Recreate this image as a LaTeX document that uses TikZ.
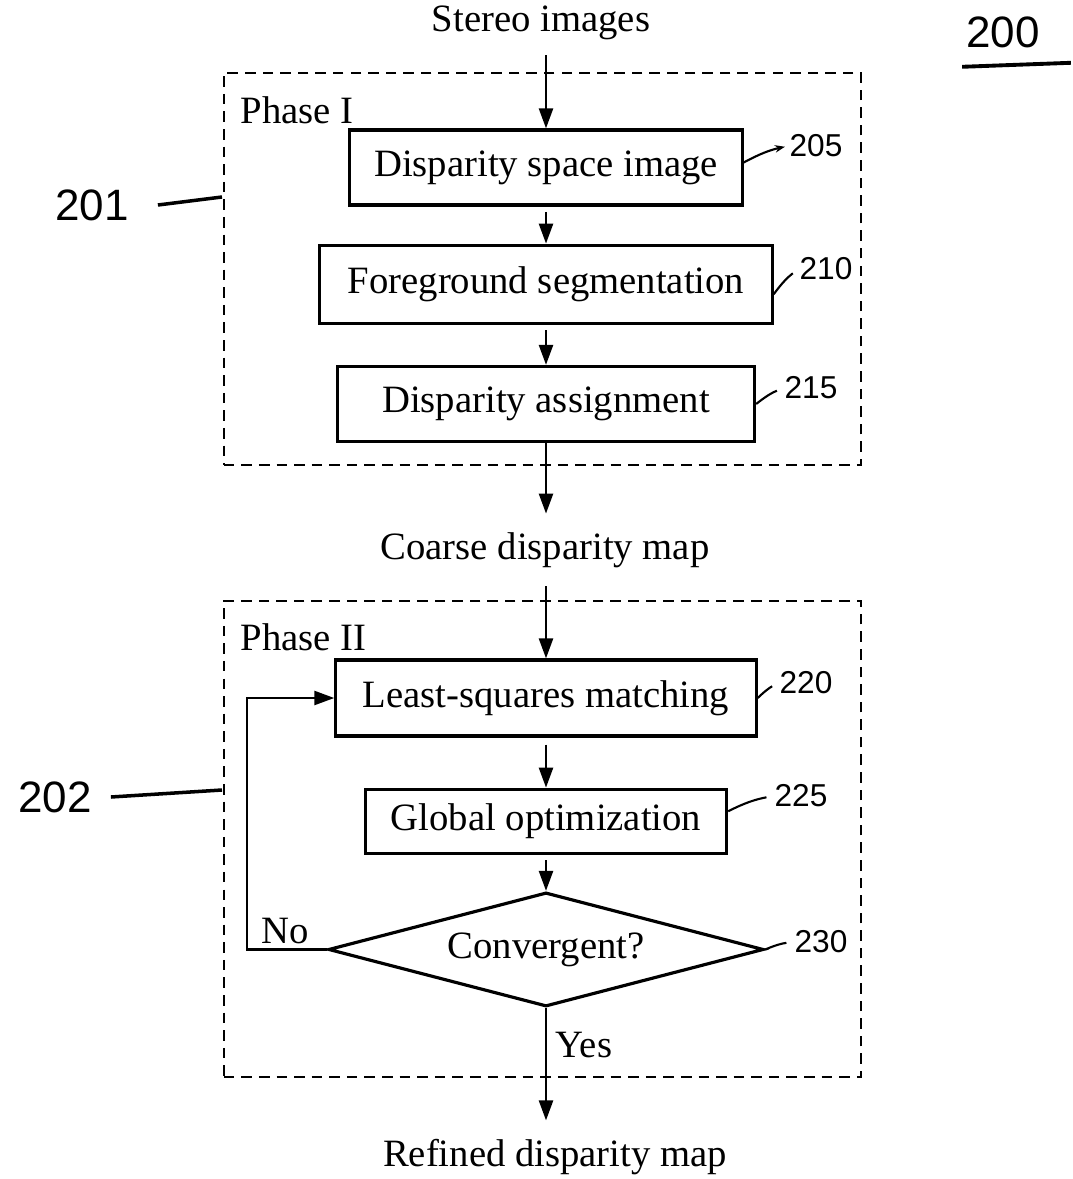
\documentclass[tikz,border=0pt]{standalone}
\usepackage{fontspec}
\setmainfont{Liberation Serif}
\newfontfamily\handfont{Liberation Sans}
\usetikzlibrary{arrows.meta, positioning, shapes.geometric}

\begin{document}
\begin{tikzpicture}[
    x=0.01cm, y=-0.01cm,
    box/.style={draw, line width=0.9pt, minimum height=0.75cm, inner sep=0pt,
                font=\fontsize{11}{13}\selectfont},
    phase/.style={draw, line width=0.7pt, dash pattern=on 3pt off 2pt, inner sep=0pt},
    txt/.style={font=\fontsize{11}{13}\selectfont, inner sep=1pt},
    refnum/.style={font=\handfont\fontsize{9}{10}\selectfont, inner sep=0pt},
    bignum/.style={font=\handfont\fontsize{12.5}{14}\selectfont, inner sep=0pt},
    leader/.style={line width=0.6pt},
    >={Triangle[length=2mm, width=1.4mm]}, line width=0.7pt
  ]
    \useasboundingbox (0,0) rectangle (1072,1179);

    % frames
    \node[phase, minimum width=6.37cm, minimum height=3.92cm] (phaseI) at (542.5,269) {};
    \node[phase, minimum width=6.37cm, minimum height=4.76cm] (phaseII) at (542.5,839) {};
    \node[txt, anchor=west] (lblI) at (236,110) {Phase I};
    \node[txt, anchor=west] (lblII) at (236,637) {Phase II};

    % phase I
    \node[txt] (stereo) at (541,23) {Stereo images};
    \node[box, minimum width=3.92cm] (dsi) at (546,167.5) {Disparity space image};
    \node[box, minimum width=4.52cm, minimum height=0.78cm, below=0.37cm of dsi] (fg)
      {Foreground segmentation};
    \node[box, minimum width=4.17cm, below=0.40cm of fg] (da) {Disparity assignment};
    \node[txt] (coarse) at (545,550) {Coarse disparity map};

    % phase II
    \node[box, minimum width=4.20cm, minimum height=0.76cm] (lsm) at (546,698)
      {Least-squares matching};
    \node[box, minimum width=3.61cm, minimum height=0.64cm, below=0.50cm of lsm] (go)
      {Global optimization};
    \node[box, diamond, aspect=3.8, minimum width=4.35cm, minimum height=1.14cm,
          below=0.36cm of go] (conv) {Convergent?};
    \node[txt] (refined) at (555,1157) {Refined disparity map};
    \node[txt] (no) at (285,931) {No};
    \node[txt] (yes) at (584,1045) {Yes};
    \coordinate (loop) at (247,950);

    \draw[->, shorten <=3pt] (stereo.south -| dsi.north) -- (dsi);
    \draw[->, shorten <=1.5pt] (dsi) -- (fg);
    \draw[->, shorten <=1.5pt] (fg) -- (da);
    \draw[->, shorten >=4pt] (da.south) -- (da.south |- coarse.north);
    \draw[->, shorten <=4pt] (coarse.south -| lsm.north) -- (lsm);
    \draw[->, shorten <=2pt] (lsm) -- (go);
    \draw[->, shorten <=1.5pt] (go) -- (conv);
    \draw[->] (conv.west) -- (conv.west -| loop) |- (lsm.west);
    \draw[->, shorten >=4pt] (conv.south) -- (conv.south |- refined.north);

    % reference numerals
    \node[bignum] (n200) at (1003,32) {200};
    \draw[line width=1.1pt] ([xshift=-0.03cm, yshift=-0.18cm]n200.south west)
      -- ([xshift=0.3cm, yshift=-0.14cm]n200.south east);
    \node[bignum] (n201) at (92,205) {201};
    \coordinate (t201) at (222,197);
    \draw[leader, line width=1pt] ([xshift=0.28cm]n201.east) -- (t201);
    \node[bignum] (n202) at (55,797) {202};
    \coordinate (t202) at (222,790);
    \draw[leader, line width=1pt] ([xshift=0.18cm]n202.east) -- (t202);

    \node[refnum] (n205) at (816,146) {205};
    \node[refnum] (n210) at (826,269) {210};
    \node[refnum] (n215) at (811,388) {215};
    \node[refnum] (n220) at (806,683) {220};
    \node[refnum] (n225) at (801,796) {225};
    \node[refnum] (n230) at (821,942) {230};
    \draw[leader, -{Stealth[length=1mm]}, shorten >=1pt] ([yshift=0.05cm]dsi.east) to[bend left=8] (n205.west);
    \draw[leader, shorten >=2pt] ([yshift=-0.1cm]fg.east) to[bend left=8] (n210.west);
    \draw[leader, shorten >=2pt] (da.east) to[bend left=8] (n215.west);
    \draw[leader, shorten >=2pt] (lsm.east) to[bend left=8] (n220.west);
    \draw[leader, shorten >=2pt] ([yshift=0.1cm]go.east) to[bend left=8] (n225.west);
    \draw[leader, shorten >=2pt] (conv.east) to[bend left=8] (n230.west);
\end{tikzpicture}
\end{document}
